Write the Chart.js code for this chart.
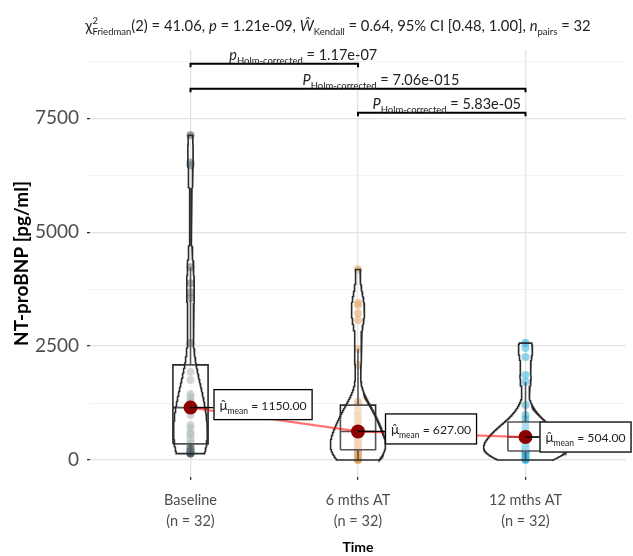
<!DOCTYPE html>
<html><head><meta charset="utf-8">
<script src="https://cdn.jsdelivr.net/npm/chart.js@4.4.1/dist/chart.umd.min.js"></script>
<style>html,body{margin:0;padding:0;background:#fff}canvas{display:block}</style>
</head><body>
<canvas id="c" width="633" height="556"></canvas>
<script>
// ---------- data ----------
const categories = ['Baseline', '6 mths AT', '12 mths AT'];
const baseline = [140, 150, 160, 175, 200, 220, 250, 300, 373, 450, 548, 592, 700, 767, 987, 1100,
                  1200, 1220, 1260, 1300, 1382, 1450, 1754, 1930, 2566, 3550, 3680, 3880, 4232, 6470, 6530, 7127];
const mths6 = [0, 10, 30, 44, 80, 120, 170, 210, 230, 280, 329, 380, 420, 482, 540, 600,
               654, 700, 811, 870, 950, 1000, 1096, 1180, 1279, 2083, 2434, 3070, 3220, 3400, 3450, 4182];
const mths12 = [0, 20, 50, 90, 130, 160, 180, 195, 200, 215, 240, 270, 310, 360, 420, 490,
                518, 540, 560, 590, 620, 680, 740, 811, 900, 987, 1206, 1711, 1864, 2259, 2456, 2566];
const centrality = [1150, 627, 504];
const yTickValues = [0, 1250, 2500, 3750, 5000, 6250, 7500, 8750];
const pValues = ['1.17e-07', '7.06e-015', '5.83e-05'];
const pSymbols = ['p', 'P', 'P'];
const pairs = [[1, 2], [1, 3], [2, 3]];
const friedmanChi2 = '41.06', friedmanDf = '2', friedmanP = '1.21e-09';
const kendallW = '0.64', ciLow = '0.48', ciHigh = '1.00', nPairs = '32';

// ---------- styling ----------
const FONT = 'Lato, "Open Sans", sans-serif';
const groupColors = ['#374E55', '#DF8F44', '#00A1D5'];
const groups = [baseline, mths6, mths12];
const BOX_W = 0.21, VIO_W = 0.5;
const LINE = '#2b2b2b';

function hexA(h, a) { const n = parseInt(h.slice(1), 16); return `rgba(${n >> 16},${(n >> 8) & 255},${n & 255},${a})`; }
function quantile(arr, p) { const s = [...arr].sort((a, b) => a - b); const h = (s.length - 1) * p; const lo = Math.floor(h); const hi = Math.min(lo + 1, s.length - 1); return s[lo] + (h - lo) * (s[hi] - s[lo]); }
function sd(a) { const m = a.reduce((x, y) => x + y, 0) / a.length; return Math.sqrt(a.reduce((x, y) => x + (y - m) ** 2, 0) / (a.length - 1)); }
function bwNrd0(a) { const lo = Math.min(sd(a), (quantile(a, .75) - quantile(a, .25)) / 1.34); return 0.9 * lo * Math.pow(a.length, -0.2); }
function kde(a, bw, y) { let s = 0; for (const v of a) { const z = (y - v) / bw; s += Math.exp(-0.5 * z * z); } return s / (a.length * bw * Math.sqrt(2 * Math.PI)); }

const dens = groups.map(g => {
  const bw = bwNrd0(g), lo = Math.min(...g), hi = Math.max(...g), ys = [], ds = [];
  for (let j = 0; j < 512; j++) { const y = lo + (hi - lo) * j / 511; ys.push(y); ds.push(kde(g, bw, y)); }
  return { ys, ds };
});
const maxD = Math.max(...dens.flatMap(d => d.ds));

const datasets = [];
groups.forEach((g, i) => {
  const cx = i + 1;
  datasets.push({ data: g.map(v => ({ x: cx, y: v })), backgroundColor: hexA(groupColors[i], 0.55), borderWidth: 0, pointRadius: 4, showLine: false, order: 40 });
  const q1 = quantile(g, .25), q3 = quantile(g, .75), md = quantile(g, .5), iqr = q3 - q1;
  const hiW = Math.max(...g.filter(v => v <= q3 + 1.5 * iqr)), loW = Math.min(...g.filter(v => v >= q1 - 1.5 * iqr));
  const l = cx - BOX_W / 2, r = cx + BOX_W / 2;
  datasets.push({ data: [{ x: l, y: q1 }, { x: r, y: q1 }, { x: r, y: q3 }, { x: l, y: q3 }, { x: l, y: q1 }], showLine: true, fill: 'shape', backgroundColor: 'rgba(255,255,255,0.5)', borderColor: LINE, borderWidth: 1.6, pointRadius: 0, order: 30 });
  datasets.push({ data: [{ x: l, y: md }, { x: r, y: md }, { x: cx, y: null }, { x: cx, y: loW }, { x: cx, y: q1 }, { x: cx, y: null }, { x: cx, y: q3 }, { x: cx, y: hiW }], showLine: true, spanGaps: false, borderColor: LINE, borderWidth: 1.6, pointRadius: 0, order: 29 });
  const d = dens[i], pts = [];
  for (let j = 0; j < d.ys.length; j++) pts.push({ x: cx - d.ds[j] / maxD * VIO_W / 2, y: d.ys[j] });
  for (let j = d.ys.length - 1; j >= 0; j--) pts.push({ x: cx + d.ds[j] / maxD * VIO_W / 2, y: d.ys[j] });
  pts.push(pts[0]);
  datasets.push({ data: pts, showLine: true, fill: 'shape', backgroundColor: 'rgba(255,255,255,0.2)', borderColor: LINE, borderWidth: 1.6, pointRadius: 0, order: 20 });
});
datasets.push({ data: centrality.map((v, i) => ({ x: i + 1, y: v })), showLine: true, borderColor: 'rgba(255,0,0,0.55)', borderWidth: 2.2, pointRadius: 0, order: 10 });
datasets.push({ data: centrality.map((v, i) => ({ x: i + 1, y: v })), showLine: false, backgroundColor: '#8B0000', borderWidth: 0, pointRadius: 7, order: 5 });

// ---------- rich text helper ----------
function rich(ctx, segs, x, y, draw) {
  let cx = x, prevX = x, prevW = 0;
  for (const s of segs) {
    ctx.font = `${s.it ? 'italic ' : ''}${s.size}px ${FONT}`;
    const w = ctx.measureText(s.t).width;
    let sx;
    if (s.stack) { sx = prevX; cx = prevX + Math.max(prevW, w); }
    else { sx = cx; prevX = cx; prevW = w; cx += w; }
    if (draw) ctx.fillText(s.t, sx, y + (s.dy || 0));
  }
  return cx - x;
}

const overlay = {
  id: 'overlay',
  afterDraw(chart) {
    const ctx = chart.ctx, xs = chart.scales.x, ys = chart.scales.y;
    ctx.save();
    ctx.textBaseline = 'alphabetic';
    ctx.fillStyle = '#222';
    // subtitle
    const B = 14.8, S = 9.5;
    const title = [
      { t: 'χ', size: B }, { t: '2', size: S, dy: -7 }, { t: 'Friedman', size: S, dy: 4, stack: true },
      { t: `(${friedmanDf}) = ${friedmanChi2}, `, size: B }, { t: 'p', size: B, it: true }, { t: ` = ${friedmanP}, `, size: B },
      { t: 'Ŵ', size: B, it: true }, { t: 'Kendall', size: S, dy: 4 }, { t: ` = ${kendallW}, 95% CI [${ciLow}, ${ciHigh}], `, size: B },
      { t: 'n', size: B, it: true }, { t: 'pairs', size: S, dy: 4 }, { t: ` = ${nPairs}`, size: B }
    ];
    const tw = rich(ctx, title, 0, 0, false);
    rich(ctx, title, 338 - tw / 2, 31, true);

    // significance brackets
    const bracketY = [8700, 8150, 7625];
    const labelDx = [29, 23, 5];
    const PB = 14.5, PS = 9.5;
    pairs.forEach((p, k) => {
      const x1 = xs.getPixelForValue(p[0]), x2 = xs.getPixelForValue(p[1]), yb = ys.getPixelForValue(bracketY[k]);
      ctx.strokeStyle = '#000'; ctx.lineWidth = 2;
      ctx.beginPath(); ctx.moveTo(x1, yb + 3.5); ctx.lineTo(x1, yb); ctx.lineTo(x2, yb); ctx.lineTo(x2, yb + 3.5); ctx.stroke();
      const segs = [{ t: pSymbols[k], size: PB, it: true }, { t: 'Holm-corrected', size: PS, dy: 4 }, { t: ` = ${pValues[k]}`, size: PB }];
      const w = rich(ctx, segs, 0, 0, false);
      ctx.fillStyle = '#222';
      rich(ctx, segs, (x1 + x2) / 2 + labelDx[k] - w / 2, yb - 4, true);
    });

    // centrality labels
    const lblDx = [23, 27, 14], lblDy = [-3, -2.5, 0];
    centrality.forEach((v, i) => {
      const px = xs.getPixelForValue(i + 1), py = ys.getPixelForValue(v);
      const segs = [{ t: 'μ̂', size: 13.5 }, { t: 'mean', size: 8.5, dy: 4 }, { t: ` = ${v.toFixed(2)}`, size: 12.2 }];
      const w = rich(ctx, segs, 0, 0, false);
      const bx = px + lblDx[i], bh = 31, bw = w + 12, by = py + lblDy[i] - bh / 2;
      ctx.strokeStyle = '#000'; ctx.lineWidth = 1.3;
      ctx.beginPath(); ctx.moveTo(px, py); ctx.lineTo(bx, py); ctx.stroke();
      ctx.fillStyle = '#fff'; ctx.fillRect(bx, by, bw, bh);
      ctx.strokeRect(bx + 0.5, by + 0.5, bw - 1, bh - 1);
      ctx.fillStyle = '#222';
      rich(ctx, segs, bx + 6, by + bh / 2 + 5, true);
    });
    ctx.restore();
  }
};

new Chart(document.getElementById('c'), {
  type: 'scatter',
  data: { datasets },
  plugins: [overlay],
  options: {
    responsive: false, animation: false, devicePixelRatio: 1, events: [],
    layout: { padding: { top: 50, right: 4, left: 0, bottom: 0 } },
    plugins: { legend: { display: false }, tooltip: { enabled: false }, title: { display: false } },
    scales: {
      x: {
        type: 'linear', min: 0.4, max: 3.6,
        afterBuildTicks: s => { s.ticks = [1, 2, 3].map(v => ({ value: v })); },
        afterFit: s => { s.height = 79; },
        grid: { color: '#E3E3E3', lineWidth: 1.3, tickColor: '#333', tickLength: 3 },
        border: { display: false },
        ticks: { callback: v => [categories[v - 1], `(n = ${groups[v - 1].length})`], font: { family: FONT, size: 14.5, lineHeight: 1.45 }, color: '#4D4D4D', padding: 10, maxRotation: 0, autoSkip: false },
        title: { display: true, text: 'Time', font: { family: FONT, size: 14, weight: 'bold' }, color: '#000', padding: { top: 1, bottom: 0 } }
      },
      y: {
        type: 'linear', min: -373, max: 9000,
        afterBuildTicks: s => { s.ticks = yTickValues.map(v => ({ value: v })); },
        afterFit: s => { s.width = 90; },
        grid: {
          color: c => (c.tick && c.tick.value % 2500 === 0) ? '#E3E3E3' : '#F0F0F0',
          lineWidth: c => (c.tick && c.tick.value % 2500 === 0) ? 1.3 : 0.9,
          tickColor: c => (c.tick && c.tick.value % 2500 === 0) ? '#333' : 'rgba(0,0,0,0)',
          tickLength: 3
        },
        border: { display: false },
        ticks: { callback: v => (v % 2500 === 0 ? String(v) : ''), font: { family: FONT, size: 19 }, color: '#4D4D4D', padding: 8 },
        title: { display: true, text: 'NT-proBNP [pg/ml]', font: { family: FONT, size: 19, weight: 'bold' }, color: '#000', padding: { top: 10, bottom: 0 } }
      }
    }
  }
});
</script>
</body></html>
